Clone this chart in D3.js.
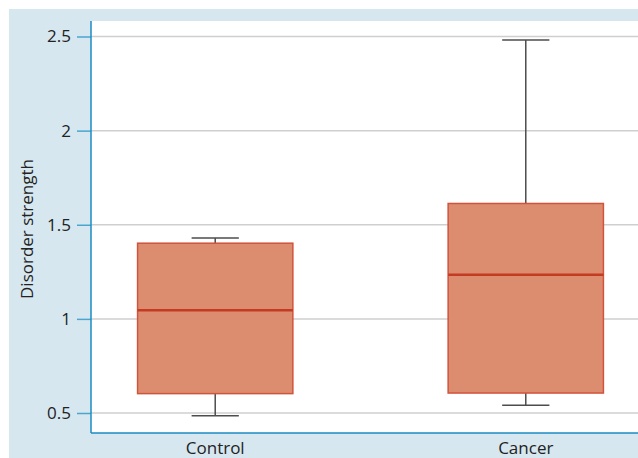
<!DOCTYPE html>
<html>
<head>
<meta charset="utf-8">
<script src="https://cdn.jsdelivr.net/npm/d3@7"></script>
<style>
  body { margin: 0; background: #fff; }
  text { font-family: "Open Sans", "Noto Sans", sans-serif; fill: #222; }
</style>
</head>
<body>
<div id="chart"></div>
<script>
// groups and five-number summaries
const groups = ['Control', 'Cancer'];
const whiskerLow = [0.485, 0.541];
const q1 = [0.603, 0.606];
const median = [1.046, 1.235];
const q3 = [1.402, 1.613];
const whiskerHigh = [1.430, 2.482];
const yTicks = [0.5, 1, 1.5, 2, 2.5];

const width = 638, height = 458;
const plotLeft = 91, plotTop = 21, plotBottom = 433, plotRight = 650;
const font = '"Open Sans", "Noto Sans", sans-serif';

const svg = d3.select('#chart').append('svg')
  .attr('width', width)
  .attr('height', height);

// light blue panel behind everything
svg.append('rect')
  .attr('x', 9).attr('y', 9)
  .attr('width', width - 9).attr('height', height - 9)
  .attr('fill', '#d7e7f0');

svg.append('rect')
  .attr('x', plotLeft).attr('y', plotTop)
  .attr('width', width - plotLeft).attr('height', plotBottom - plotTop)
  .attr('fill', '#fff');

const y = d3.scaleLinear().domain([0.5, 2.5]).range([413, 36.5]);
const x = d3.scalePoint().domain(groups).range([plotLeft, plotRight]).padding(0.4);
const step = x.step();
const boxW = step * 0.5;
const capHalf = step * 0.076;

// gridlines
svg.append('g').selectAll('line')
  .data(yTicks)
  .enter().append('line')
  .attr('x1', plotLeft).attr('x2', width)
  .attr('y1', d => y(d)).attr('y2', d => y(d))
  .attr('stroke', '#cfcfcf')
  .attr('stroke-width', 1.5);

// y axis
const yAxis = svg.append('g')
  .attr('transform', `translate(${plotLeft},0)`)
  .call(d3.axisLeft(y).tickValues(yTicks).tickSize(14).tickPadding(6).tickFormat(d3.format('')));
yAxis.select('.domain').remove();
yAxis.selectAll('.tick line').attr('stroke', '#4aa6cf').attr('stroke-width', 1.5);
yAxis.selectAll('.tick text')
  .style('font-size', '17px')
  .style('font-family', font)
  .attr('fill', '#222');

// axis lines
svg.append('line')
  .attr('x1', plotLeft).attr('x2', plotLeft)
  .attr('y1', plotTop).attr('y2', plotBottom)
  .attr('stroke', '#1b8cc4').attr('stroke-width', 1.5);
svg.append('line')
  .attr('x1', plotLeft).attr('x2', width)
  .attr('y1', plotBottom).attr('y2', plotBottom)
  .attr('stroke', '#1b8cc4').attr('stroke-width', 1.5);

// x labels
svg.append('g').selectAll('text')
  .data(groups)
  .enter().append('text')
  .attr('x', d => x(d))
  .attr('y', 454)
  .attr('text-anchor', 'middle')
  .style('font-size', '17px')
  .text(d => d);

svg.append('text')
  .attr('transform', `translate(33, ${(plotTop + plotBottom) / 2 + 2}) rotate(-90)`)
  .attr('text-anchor', 'middle')
  .style('font-size', '17px')
  .text('Disorder strength');

// boxes
const box = svg.append('g').selectAll('g')
  .data(groups)
  .enter().append('g');

box.append('line')
  .attr('x1', d => x(d)).attr('x2', d => x(d))
  .attr('y1', (d, i) => y(whiskerHigh[i]))
  .attr('y2', (d, i) => y(whiskerLow[i]))
  .attr('stroke', '#4d4d4d').attr('stroke-width', 1.5);

box.selectAll('.cap')
  .data((d, i) => [whiskerLow[i], whiskerHigh[i]].map(v => ({ g: d, v })))
  .enter().append('line')
  .attr('class', 'cap')
  .attr('x1', d => x(d.g) - capHalf).attr('x2', d => x(d.g) + capHalf)
  .attr('y1', d => y(d.v)).attr('y2', d => y(d.v))
  .attr('stroke', '#4d4d4d').attr('stroke-width', 1.5);

box.append('rect')
  .attr('x', d => x(d) - boxW / 2)
  .attr('width', boxW)
  .attr('y', (d, i) => y(q3[i]))
  .attr('height', (d, i) => y(q1[i]) - y(q3[i]))
  .attr('fill', '#dd8d6f')
  .attr('stroke', '#d1533c')
  .attr('stroke-width', 1.5);

box.append('line')
  .attr('x1', d => x(d) - boxW / 2).attr('x2', d => x(d) + boxW / 2)
  .attr('y1', (d, i) => y(median[i])).attr('y2', (d, i) => y(median[i]))
  .attr('stroke', '#c53a22').attr('stroke-width', 2.5);
</script>
</body>
</html>
